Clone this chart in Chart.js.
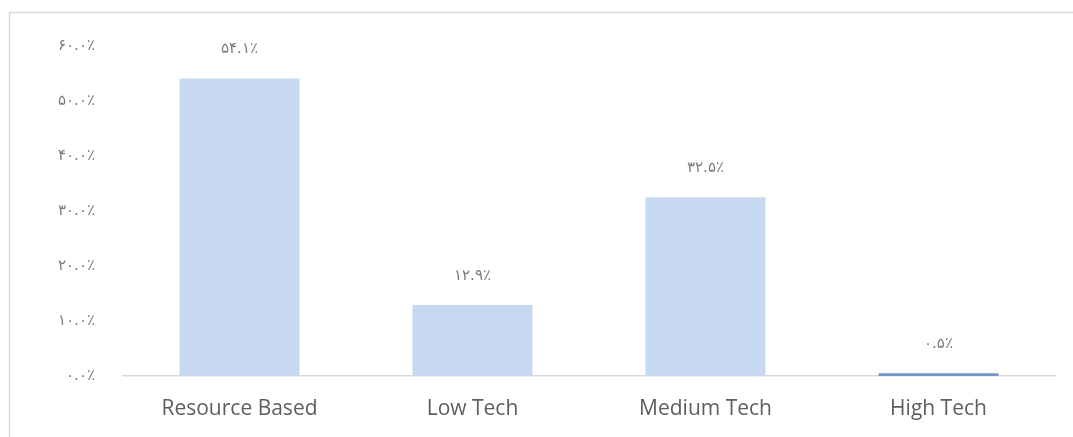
<!DOCTYPE html>
<html>
<head>
<meta charset="utf-8">
<script src="https://cdn.jsdelivr.net/npm/chart.js@4"></script>
<style>
html,body{margin:0;padding:0;background:#fff;}
#wrap{position:relative;width:1073px;height:437px;overflow:hidden;}
canvas{display:block;}
</style>
</head>
<body>
<div id="wrap"><canvas id="c" width="1073" height="437"></canvas></div>
<script>
const categories = ["Resource Based", "Low Tech", "Medium Tech", "High Tech"];
const shares = [54.1, 12.9, 32.5, 0.5];
const yTicks = [0, 10, 20, 30, 40, 50, 60];

const faDigits = "۰۱۲۳۴۵۶۷۸۹";
function toFa(v) {
  return v.toFixed(1).replace(/[0-9]/g, d => faDigits[+d]) + "٪";
}

const frame = {
  id: 'frame',
  beforeDraw(chart) {
    const ctx = chart.ctx;
    ctx.save();
    ctx.fillStyle = '#fff';
    ctx.fillRect(0, 0, chart.width, chart.height);
    ctx.strokeStyle = '#d9d9d9';
    ctx.lineWidth = 1.5;
    ctx.strokeRect(9.5, 12.5, 1200, 600);
    ctx.restore();
  }
};

const valueLabels = {
  id: 'valueLabels',
  afterDatasetsDraw(chart) {
    const ctx = chart.ctx;
    const meta = chart.getDatasetMeta(0);
    ctx.save();
    ctx.font = '15px "DejaVu Sans"';
    ctx.fillStyle = '#7a7a7a';
    ctx.textAlign = 'center';
    ctx.textBaseline = 'middle';
    meta.data.forEach((bar, i) => {
      ctx.fillText(toFa(shares[i]), bar.x, bar.y - 29);
    });
    ctx.restore();
  }
};

new Chart(document.getElementById('c'), {
  type: 'bar',
  data: {
    labels: categories,
    datasets: [{
      data: shares,
      backgroundColor: ['#c6d9f1', '#c6d9f1', '#c6d9f1', '#6f96d0'],
      borderWidth: 0,
      categoryPercentage: 1,
      barPercentage: 0.515
    }]
  },
  options: {
    responsive: false,
    animation: false,
    devicePixelRatio: 1,
    layout: { padding: { top: 46, right: 18, bottom: 0, left: 0 } },
    plugins: { legend: { display: false }, tooltip: { enabled: false } },
    scales: {
      x: {
        grid: { display: false, drawTicks: false },
        border: { display: true, color: '#d9d9d9', width: 1.5 },
        ticks: { color: '#5e5e5e', font: { family: '"Open Sans"', size: 21 }, padding: 20, maxRotation: 0 },
        afterFit(s) { s.height = 61; }
      },
      y: {
        min: 0, max: 60,
        afterBuildTicks(s) { s.ticks = yTicks.map(v => ({ value: v })); },
        grid: { display: false, drawTicks: false },
        border: { display: false },
        ticks: {
          color: '#7a7a7a',
          font: { family: '"DejaVu Sans"', size: 15 },
          padding: 28,
          callback: v => toFa(v)
        },
        afterFit(s) { s.width = 123; }
      }
    }
  },
  plugins: [frame, valueLabels]
});
</script>
</body>
</html>
